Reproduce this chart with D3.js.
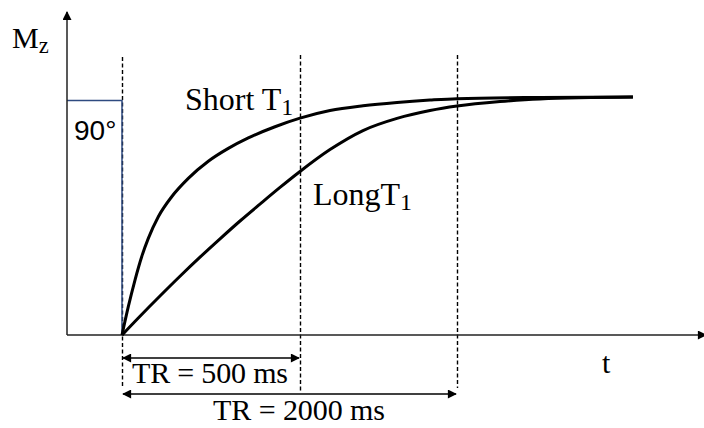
<!DOCTYPE html>
<html>
<head>
<meta charset="utf-8">
<script src="https://cdn.jsdelivr.net/npm/d3@7"></script>
<style>
  html, body { margin: 0; padding: 0; background: #fff; }
  text { font-family: "Liberation Serif", "Times New Roman", serif; fill: #000; }
</style>
</head>
<body>
<div id="chart"></div>
<script>
// time in ms (the figure is not drawn to scale), Mz as fraction of M0
const shortT = [0, 17.7, 36.5, 55.3, 73.9, 102, 139.6, 186.2, 242.4, 298.6, 354.8, 429.8, 500, 786.6, 1102, 1427, 1742, 2000, 2793, 3681];
const shortM = [0, 0.119, 0.231, 0.329, 0.406, 0.497, 0.581, 0.658, 0.730, 0.784, 0.828, 0.875, 0.911, 0.943, 0.963, 0.977, 0.987, 0.993, 0.998, 1.0];
const longT = [0, 50.6, 106.7, 162.9, 219.1, 275.3, 331.5, 387.6, 443.8, 500, 786.6, 1102, 1427, 1742, 2000, 2411, 2793, 3681];
const longM = [0, 0.079, 0.164, 0.247, 0.327, 0.404, 0.479, 0.550, 0.620, 0.687, 0.779, 0.859, 0.910, 0.943, 0.962, 0.981, 0.992, 1.0];
const trValues = [500, 2000];
const trLabels = ["TR = 500 ms", "TR = 2000 ms"];
const pulseLevel = 0.985;

const w = 704;
const h = 428;
const originX = 67;
const originY = 335;

// the picture squeezes the time axis after 500 ms, so use a piecewise scale
const xScale = d3.scaleLinear()
  .domain([0, 500, 2000])
  .range([122, 300, 457]);

const yScale = d3.scaleLinear()
  .domain([0, 1])
  .range([originY, 97]);

const svg = d3.select("#chart")
  .append("svg")
  .attr("width", w)
  .attr("height", h);

const defs = svg.append("defs");
defs.append("marker")
  .attr("id", "arrow")
  .attr("viewBox", "0 0 10 10")
  .attr("refX", 9)
  .attr("refY", 5)
  .attr("markerWidth", 11)
  .attr("markerHeight", 9)
  .attr("markerUnits", "userSpaceOnUse")
  .attr("orient", "auto-start-reverse")
  .append("path")
  .attr("d", "M0,0 L10,5 L0,10 Z")
  .attr("fill", "#000");

// dashed TR guides
const guides = [0].concat(trValues);
svg.selectAll(".guide")
  .data(guides)
  .enter()
  .append("line")
  .attr("class", "guide")
  .attr("x1", d => xScale(d) + 0.5)
  .attr("x2", d => xScale(d) + 0.5)
  .attr("y1", d => d === 0 ? 57 : 55)
  .attr("y2", d => d === 500 ? 392 : 388)
  .attr("stroke", "#000")
  .attr("stroke-width", 1.4)
  .attr("stroke-dasharray", "4,2.5");

// 90 degree pulse box
svg.append("path")
  .attr("d", `M${originX},${yScale(pulseLevel)} H${xScale(0)} V${originY}`)
  .attr("fill", "none")
  .attr("stroke", "#2e4a80")
  .attr("stroke-width", 1.5);

// axes
svg.append("line")
  .attr("x1", originX).attr("y1", originY)
  .attr("x2", originX).attr("y2", 12)
  .attr("stroke", "#222")
  .attr("stroke-width", 1.5)
  .attr("marker-end", "url(#arrow)");

svg.append("line")
  .attr("x1", originX).attr("y1", originY)
  .attr("x2", 706).attr("y2", originY)
  .attr("stroke", "#222")
  .attr("stroke-width", 1.5)
  .attr("marker-end", "url(#arrow)");

// recovery curves
const line = d3.line()
  .x(d => xScale(d[0]))
  .y(d => yScale(d[1]))
  .curve(d3.curveMonotoneX);

[[shortT, shortM], [longT, longM]].forEach(([ts, ms]) => {
  svg.append("path")
    .datum(ts.map((t, i) => [t, ms[i]]))
    .attr("d", line)
    .attr("fill", "none")
    .attr("stroke", "#000")
    .attr("stroke-width", 3)
    .attr("stroke-linejoin", "round");
});

// TR arrows
const arrowY = [358, 394];
const labelPos = [[132, 383], [213, 420]];
trValues.forEach((tr, i) => {
  svg.append("line")
    .attr("x1", xScale(0) + 1).attr("x2", xScale(tr) - 1)
    .attr("y1", arrowY[i]).attr("y2", arrowY[i])
    .attr("stroke", "#000")
    .attr("stroke-width", 1.5)
    .attr("marker-start", "url(#arrow)")
    .attr("marker-end", "url(#arrow)");

  svg.append("text")
    .attr("x", labelPos[i][0])
    .attr("y", labelPos[i][1])
    .attr("font-size", 30)
    .attr("textLength", i === 0 ? 156 : 172)
    .text(trLabels[i]);
});

// labels
function subLabel(x, y, main, sub, size) {
  const t = svg.append("text")
    .attr("x", x)
    .attr("y", y)
    .attr("font-size", size);
  t.append("tspan").text(main);
  t.append("tspan")
    .attr("font-size", size * 0.75)
    .attr("dy", 5)
    .text(sub);
}

subLabel(12, 48, "M", "z", 30);
subLabel(185, 110, "Short T", "1", 32);
subLabel(313, 205, "LongT", "1", 32);

svg.append("text")
  .attr("x", 602)
  .attr("y", 373)
  .attr("font-size", 30)
  .text("t");

svg.append("text")
  .attr("x", 74)
  .attr("y", 140)
  .attr("font-size", 28)
  .style("font-family", "'Liberation Sans', Arial, sans-serif")
  .text("90°");
</script>
</body>
</html>
